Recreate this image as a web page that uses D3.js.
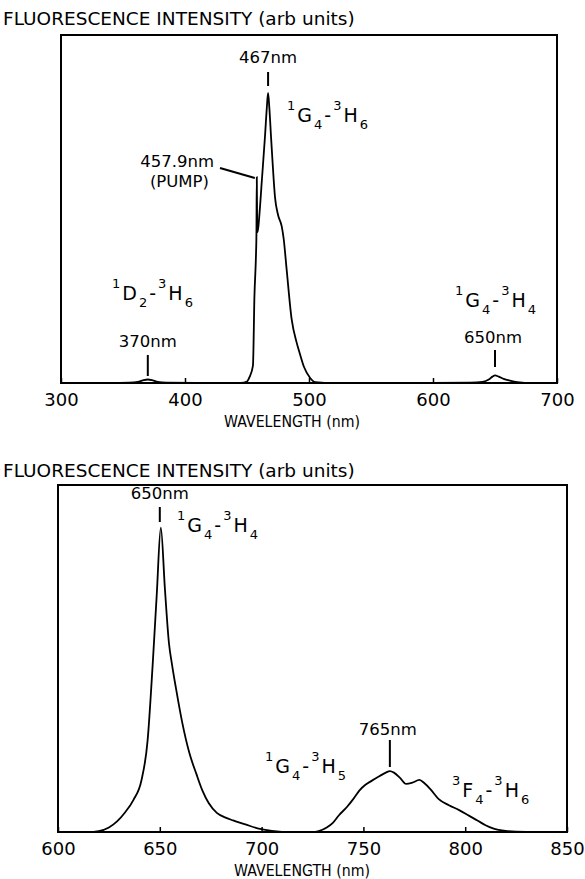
<!DOCTYPE html>
<html>
<head>
<meta charset="utf-8">
<script src="https://cdn.jsdelivr.net/npm/d3@7"></script>
<style>
  body { margin: 0; background: #fff; }
  svg { font-family: "DejaVu Sans", sans-serif; }
  .tick text { font-family: "DejaVu Sans", sans-serif; }
</style>
</head>
<body>
<script>
// ---- data ----
var topWl = [300, 340, 355, 362, 366, 370, 374, 378, 385, 420, 445, 450, 452, 454.8, 456, 457.3, 457.6, 457.9, 458.2, 458.6,
             460, 462, 464.5, 466, 467, 468, 469.5, 470.5, 472.6, 475, 478, 479.5, 482, 486, 490, 492.7, 496, 500.8, 505,
             520, 600, 630, 640, 645, 648, 650, 653, 657, 662, 668, 680, 700];
var topInt = [0, 0, 0.1, 0.4, 0.9, 1.2, 0.9, 0.4, 0.1, 0, 0, 0.5, 2, 6, 30, 45, 51, 71, 54, 52,
              58, 70, 85, 95, 100, 95, 84, 77, 64, 58, 54, 50, 39, 22, 14, 10, 5.5, 1.8, 0.3,
              0, 0, 0.1, 0.4, 1.2, 2.2, 2.6, 2.2, 1.4, 0.8, 0.3, 0, 0];

var botWl = [600, 615, 620, 625, 629, 633, 637, 641, 644, 646.5, 648.5, 650.5, 652.5, 654.5, 656, 658, 661, 664.5, 668,
             671, 674, 678, 682, 686, 692, 698, 705, 715, 725, 728, 732, 735, 738, 742, 745, 748, 751, 754, 758, 761,
             763, 765, 768, 771, 774, 777.5, 780, 783, 787, 792, 797, 802, 806, 810, 814, 818, 825, 835, 850];
var botInt = [0, 0, 0.3, 1.5, 3.5, 6.5, 10.5, 17, 30, 55, 78, 100, 80, 62, 55, 47, 36, 26, 19,
              13.5, 9.5, 6.3, 4.8, 3.8, 2.5, 1.2, 0.4, 0, 0, 0.3, 1.5, 3, 5.5, 8.3, 10.8, 13.6, 15.5, 16.8, 18.4, 19.5,
              20, 19.5, 17.8, 15.8, 16.2, 17.1, 16, 14, 10.8, 8.8, 7.2, 5.3, 3.8, 2.2, 1.1, 0.5, 0.1, 0, 0];

var topTicks = [300, 400, 500, 600, 700];
var botTicks = [600, 650, 700, 750, 800, 850];

var titleText = "FLUORESCENCE INTENSITY (arb units)";
var xLabelText = "WAVELENGTH (nm)";

var width = 585;
var height = 879;

var svg = d3.select("body").append("svg")
            .attr("width", width)
            .attr("height", height);

// ---- scales ----
var xTop = d3.scaleLinear().domain([300, 700]).range([61, 557]);
var yTop = d3.scaleLinear().domain([0, 120]).range([383, 35]);
var xBot = d3.scaleLinear().domain([600, 850]).range([58, 567]);
var yBot = d3.scaleLinear().domain([0, 114]).range([832, 485]);

// draws a frame, axis and curve for one panel
function panel(x, y, wl, inten, ticks, titleY, labelX, labelY) {
  var g = svg.append("g");

  g.append("rect")
   .attr("x", x.range()[0])
   .attr("y", y.range()[1])
   .attr("width", x.range()[1] - x.range()[0])
   .attr("height", y.range()[0] - y.range()[1])
   .attr("fill", "none")
   .attr("stroke", "#000")
   .attr("stroke-width", 2);

  var axis = g.append("g")
              .attr("transform", `translate(0, ${y.range()[0]})`)
              .call(d3.axisBottom(x).tickValues(ticks).tickFormat(d3.format("d"))
                      .tickSizeInner(-5).tickSizeOuter(0).tickPadding(10));
  axis.select(".domain").remove();
  axis.selectAll(".tick line").attr("stroke", "#000").attr("stroke-width", 1.5);
  axis.selectAll(".tick text").attr("font-size", 18).attr("fill", "#000");

  var line = d3.line()
               .x(function(d, i) { return x(wl[i]); })
               .y(function(d) { return y(d); })
               .curve(d3.curveMonotoneX);

  g.append("path")
   .datum(inten)
   .attr("d", line)
   .attr("fill", "none")
   .attr("stroke", "#000")
   .attr("stroke-width", 1.8);

  g.append("text")
   .attr("x", 3)
   .attr("y", titleY)
   .attr("font-size", 18.5)
   .text(titleText);

  g.append("text")
   .attr("x", labelX)
   .attr("y", labelY)
   .attr("text-anchor", "middle")
   .attr("font-size", 16)
   .attr("textLength", 136)
   .attr("lengthAdjust", "spacingAndGlyphs")
   .text(xLabelText);

  return g;
}

var gTop = panel(xTop, yTop, topWl, topInt, topTicks, 25, 292, 427);
var gBot = panel(xBot, yBot, botWl, botInt, botTicks, 477, 302, 876);

// term symbols like 1G4-3H6 with super/subscripts
function term(g, x, y, parts) {
  var t = g.append("text").attr("x", x).attr("y", y);
  var cur = 0;
  parts.forEach(function(p) {
    var off = p[1] === "sup" ? -12 : p[1] === "sub" ? 7 : 0;
    t.append("tspan")
     .attr("dy", off - cur)
     .attr("dx", 2)
     .attr("font-size", p[1] === "main" ? 19 : 13)
     .text(p[0]);
    cur = off;
  });
}

function mark(g, x, y1, y2) {
  g.append("line")
   .attr("x1", x).attr("x2", x)
   .attr("y1", y1).attr("y2", y2)
   .attr("stroke", "#000")
   .attr("stroke-width", 2);
}

function nmLabel(g, x, y, s, anchor) {
  g.append("text")
   .attr("x", x).attr("y", y)
   .attr("text-anchor", anchor || "middle")
   .attr("font-size", 16.5)
   .text(s);
}

// top panel annotations
nmLabel(gTop, xTop(467), 63, "467nm");
mark(gTop, xTop(467), 72, 86);
term(gTop, 285, 122, [["1", "sup"], ["G", "main"], ["4", "sub"], ["-", "main"], ["3", "sup"], ["H", "main"], ["6", "sub"]]);

nmLabel(gTop, 214, 167, "457.9nm", "end");
nmLabel(gTop, 209, 187, "(PUMP)", "end");
gTop.append("line")
    .attr("x1", 220).attr("y1", 168)
    .attr("x2", xTop(457.9) - 2).attr("y2", 178)
    .attr("stroke", "#000").attr("stroke-width", 2);

term(gTop, 110, 300, [["1", "sup"], ["D", "main"], ["2", "sub"], ["-", "main"], ["3", "sup"], ["H", "main"], ["6", "sub"]]);
nmLabel(gTop, xTop(370), 347, "370nm");
mark(gTop, xTop(370), 355, 376);

term(gTop, 453, 307, [["1", "sup"], ["G", "main"], ["4", "sub"], ["-", "main"], ["3", "sup"], ["H", "main"], ["4", "sub"]]);
nmLabel(gTop, xTop(650) - 2, 343, "650nm");
mark(gTop, xTop(650), 350, 367);

// bottom panel annotations
nmLabel(gBot, xBot(650), 499, "650nm");
mark(gBot, xBot(650), 507, 522);
term(gBot, 175, 532, [["1", "sup"], ["G", "main"], ["4", "sub"], ["-", "main"], ["3", "sup"], ["H", "main"], ["4", "sub"]]);

nmLabel(gBot, xBot(763) - 2, 735, "765nm");
mark(gBot, xBot(763), 740, 767);
term(gBot, 263, 773, [["1", "sup"], ["G", "main"], ["4", "sub"], ["-", "main"], ["3", "sup"], ["H", "main"], ["5", "sub"]]);
term(gBot, 450, 797, [["3", "sup"], ["F", "main"], ["4", "sub"], ["-", "main"], ["3", "sup"], ["H", "main"], ["6", "sub"]]);
</script>
</body>
</html>
